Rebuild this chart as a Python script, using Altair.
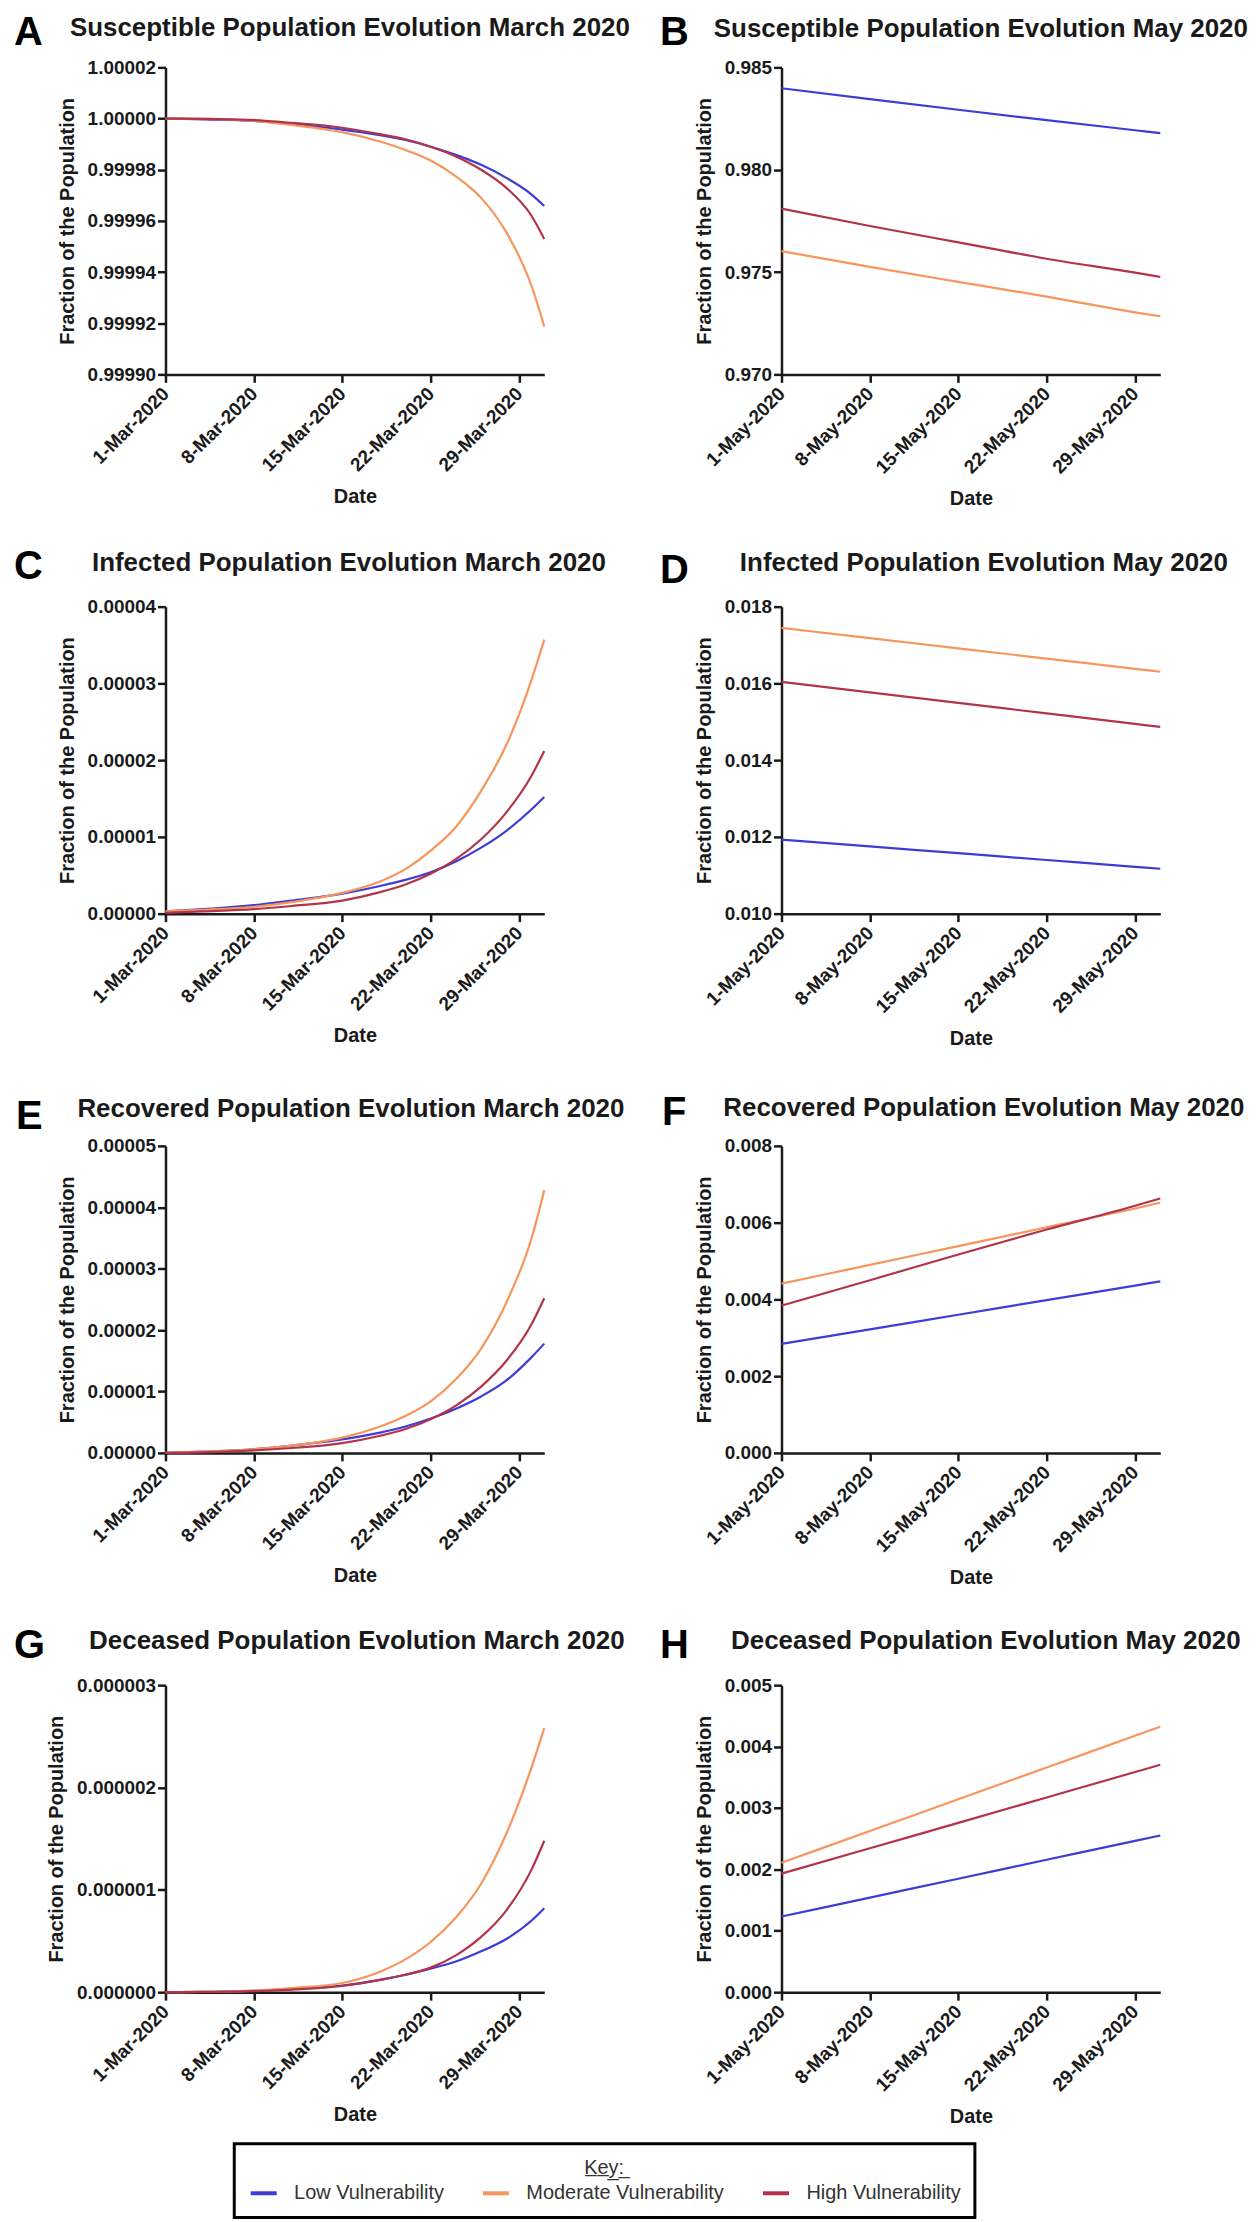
import altair as alt
import pandas as pd

FONT = "Liberation Sans"
INK = "#1a1a1a"

LEVELS = ["Low Vulnerability", "Moderate Vulnerability", "High Vulnerability"]
COLORS = ["#3d3dd6", "#f7955c", "#b3344a"]

days_mar = [1, 4, 8, 11, 15, 18, 20, 22, 24, 26, 28, 30, 31]
days_may = [1, 8, 15, 22, 29, 31]
tick_days = [1, 8, 15, 22, 29]

# A - Susceptible, March
sus_mar_low = [1.0000000, 0.9999997, 0.9999991, 0.9999978, 0.9999957, 0.9999935, 0.9999916,
               0.9999890, 0.9999858, 0.9999819, 0.9999768, 0.9999703, 0.9999658]
sus_mar_mod = [1.0000000, 0.9999999, 0.9999991, 0.9999975, 0.9999947, 0.9999910, 0.9999877,
               0.9999836, 0.9999774, 0.9999690, 0.9999555, 0.9999345, 0.9999187]
sus_mar_high = [1.0000000, 0.9999999, 0.9999994, 0.9999983, 0.9999964, 0.9999939, 0.9999919,
                0.9999890, 0.9999852, 0.9999800, 0.9999729, 0.9999619, 0.9999529]
# B - Susceptible, May
sus_may_low = [0.98398, 0.98345, 0.98293, 0.98242, 0.98193, 0.98179]
sus_may_mod = [0.97602, 0.97525, 0.97452, 0.97380, 0.97303, 0.97284]
sus_may_high = [0.97810, 0.97725, 0.97645, 0.97565, 0.97497, 0.97476]
# C - Infected, March
inf_mar_low = [3.0e-7, 6.0e-7, 1.1e-6, 1.7e-6, 2.6e-6, 3.6e-6, 4.4e-6, 5.4e-6, 6.8e-6,
               8.6e-6, 1.08e-5, 1.36e-5, 1.52e-5]
inf_mar_mod = [3.0e-7, 5.0e-7, 9.0e-7, 1.5e-6, 2.7e-6, 4.2e-6, 5.8e-6, 8.2e-6, 1.13e-5,
               1.6e-5, 2.2e-5, 3.05e-5, 3.57e-5]
inf_mar_high = [1.0e-7, 3.0e-7, 6.0e-7, 1.0e-6, 1.7e-6, 2.8e-6, 3.8e-6, 5.2e-6, 7.1e-6,
                9.7e-6, 1.32e-5, 1.8e-5, 2.12e-5]
# D - Infected, May
inf_may_low = [0.011929, 0.011752, 0.011575, 0.011398, 0.011220, 0.011170]
inf_may_mod = [0.017446, 0.017180, 0.016913, 0.016647, 0.016380, 0.016304]
inf_may_high = [0.016040, 0.015766, 0.015492, 0.015218, 0.014944, 0.014866]
# E - Recovered, March
rec_mar_low = [0.0, 2e-7, 6e-7, 1.2e-6, 2.2e-6, 3.3e-6, 4.3e-6, 5.6e-6, 7.2e-6,
               9.2e-6, 1.18e-5, 1.56e-5, 1.78e-5]
rec_mar_mod = [0.0, 2e-7, 6e-7, 1.2e-6, 2.5e-6, 4.3e-6, 6.0e-6, 8.4e-6, 1.2e-5,
               1.7e-5, 2.45e-5, 3.5e-5, 4.28e-5]
rec_mar_high = [0.0, 1e-7, 4e-7, 8e-7, 1.6e-6, 2.8e-6, 3.9e-6, 5.5e-6, 7.7e-6,
                1.08e-5, 1.5e-5, 2.1e-5, 2.52e-5]
# F - Recovered, May
rec_may_low = [0.00284, 0.00322, 0.00360, 0.00398, 0.00436, 0.00447]
rec_may_mod = [0.00441, 0.00490, 0.00539, 0.00588, 0.00637, 0.00652]
rec_may_high = [0.00384, 0.00450, 0.00517, 0.00582, 0.00644, 0.00663]
# G - Deceased, March
dec_mar_low = [0.0, 3e-9, 1.2e-8, 3.0e-8, 6.5e-8, 1.2e-7, 1.7e-7, 2.3e-7, 3.0e-7,
               4.0e-7, 5.2e-7, 7.0e-7, 8.2e-7]
dec_mar_mod = [0.0, 3e-9, 1.5e-8, 4.0e-8, 9.0e-8, 2.0e-7, 3.2e-7, 4.9e-7, 7.3e-7,
               1.06e-6, 1.55e-6, 2.2e-6, 2.58e-6]
dec_mar_high = [0.0, 2e-9, 1.0e-8, 2.5e-8, 6.0e-8, 1.2e-7, 1.7e-7, 2.4e-7, 3.6e-7,
                5.4e-7, 8.0e-7, 1.2e-6, 1.48e-6]
# H - Deceased, May
dec_may_low = [0.001232, 0.001540, 0.001848, 0.002156, 0.002464, 0.002551]
dec_may_mod = [0.002108, 0.002625, 0.003142, 0.003659, 0.004176, 0.004324]
dec_may_high = [0.001930, 0.002344, 0.002757, 0.003171, 0.003585, 0.003703]

W = 380
H = 308

LEGEND = alt.Legend(
    orient="none", legendX=69, legendY=2083, direction="horizontal",
    title="K\u0332e\u0332y\u0332:\u0332", titleAnchor="middle", titleOrient="top",
    titleFont=FONT, titleFontSize=20, titleFontWeight="normal", titleColor="#333",
    titlePadding=0, labelFont=FONT, labelFontSize=20, labelColor="#333",
    labelOffset=15, labelLimit=400, symbolType="stroke", symbolSize=680,
    symbolStrokeWidth=4, columnPadding=30, padding=14,
    strokeColor="black", fillColor="white",
)


def panel(letter, title, days, series, month, ydomain, yticks, yfmt,
          lx, ly, tx, ty):
    rows = []
    for lvl, vals in zip(LEVELS, series):
        for d, v in zip(days, vals):
            rows.append({"day": d, "value": v, "level": lvl})
    df = pd.DataFrame(rows)
    lines = alt.Chart(df).mark_line(strokeWidth=2.2, interpolate="monotone").encode(
        x=alt.X("day:Q", scale=alt.Scale(domain=[1, 31], nice=False, zero=False),
                axis=alt.Axis(values=tick_days,
                              labelExpr=f"datum.value + '-{month}-2020'",
                              title="Date")),
        y=alt.Y("value:Q", scale=alt.Scale(domain=ydomain, nice=False, zero=False),
                axis=alt.Axis(values=yticks, format=yfmt,
                              title="Fraction of the Population")),
        color=alt.Color("level:N", scale=alt.Scale(domain=LEVELS, range=COLORS),
                        legend=LEGEND),
    )
    ann = pd.DataFrame({"letter": [letter], "title": [title]})
    letter_mark = alt.Chart(ann).mark_text(
        font=FONT, fontSize=40, fontWeight="bold", align="left",
        baseline="top", color="black"
    ).encode(text="letter:N", x=alt.value(lx), y=alt.value(ly))
    title_mark = alt.Chart(ann).mark_text(
        font=FONT, fontSize=26, fontWeight="bold", align="center",
        baseline="top", color=INK
    ).encode(text="title:N", x=alt.value(tx), y=alt.value(ty))
    return alt.layer(lines, letter_mark, title_mark).properties(width=W, height=H)


pA = panel("A", "Susceptible Population Evolution March 2020", days_mar,
           [sus_mar_low, sus_mar_mod, sus_mar_high], "Mar",
           [0.9999, 1.00002], [0.9999, 0.99992, 0.99994, 0.99996, 0.99998, 1.0, 1.00002],
           ".5f", -152, -54, 185, -52.5)
pB = panel("B", "Susceptible Population Evolution May 2020", days_may,
           [sus_may_low, sus_may_mod, sus_may_high], "May",
           [0.970, 0.985], [0.970, 0.975, 0.980, 0.985], ".3f", -122, -54, 200, -51)
pC = panel("C", "Infected Population Evolution March 2020", days_mar,
           [inf_mar_low, inf_mar_mod, inf_mar_high], "Mar",
           [0, 0.00004], [0, 0.00001, 0.00002, 0.00003, 0.00004], ".5f",
           -152, -60, 184, -57)
pD = panel("D", "Infected Population Evolution May 2020", days_may,
           [inf_may_low, inf_may_mod, inf_may_high], "May",
           [0.010, 0.018], [0.010, 0.012, 0.014, 0.016, 0.018], ".3f",
           -122, -56, 203, -57)
pE = panel("E", "Recovered Population Evolution March 2020", days_mar,
           [rec_mar_low, rec_mar_mod, rec_mar_high], "Mar",
           [0, 0.00005], [0, 0.00001, 0.00002, 0.00003, 0.00004, 0.00005], ".5f",
           -150, -49, 186, -49.5)
pF = panel("F", "Recovered Population Evolution May 2020", days_may,
           [rec_may_low, rec_may_mod, rec_may_high], "May",
           [0, 0.008], [0, 0.002, 0.004, 0.006, 0.008], ".3f",
           -120, -53, 203, -51.5)
pG = panel("G", "Deceased Population Evolution March 2020", days_mar,
           [dec_mar_low, dec_mar_mod, dec_mar_high], "Mar",
           [0, 0.000003], [0, 0.000001, 0.000002, 0.000003], ".6f",
           -152, -59, 192, -57.5)
pH = panel("H", "Deceased Population Evolution May 2020", days_may,
           [dec_may_low, dec_may_mod, dec_may_high], "May",
           [0, 0.005], [0, 0.001, 0.002, 0.003, 0.004, 0.005], ".3f",
           -122, -59, 205, -57.5)

chart = alt.concat(
    pA, pB, pC, pD, pE, pF, pG, pH, columns=2,
    spacing={"row": 233, "column": 238}, bounds="flush", align="each",
).properties(
    padding={"left": 6, "top": 2, "right": 0, "bottom": 0}
).configure_view(stroke=None).configure_axis(
    domainColor=INK, domainWidth=2.5, tickColor=INK, tickWidth=2.5, tickSize=8,
    grid=False, labelFlush=False, labelOverlap=False,
    labelFont=FONT, labelFontSize=19, labelFontWeight="bold", labelColor=INK,
    titleFont=FONT, titleFontSize=20, titleFontWeight="bold", titleColor=INK,
).configure_axisX(
    labelAngle=-45, labelAlign="right", labelBaseline="middle", labelPadding=8,
    titlePadding=12,
).configure_axisY(
    labelPadding=2, titlePadding=10,
).configure_legend(strokeWidth=3)

chart.save("out.html", embed_options={"renderer": "svg", "actions": False})
